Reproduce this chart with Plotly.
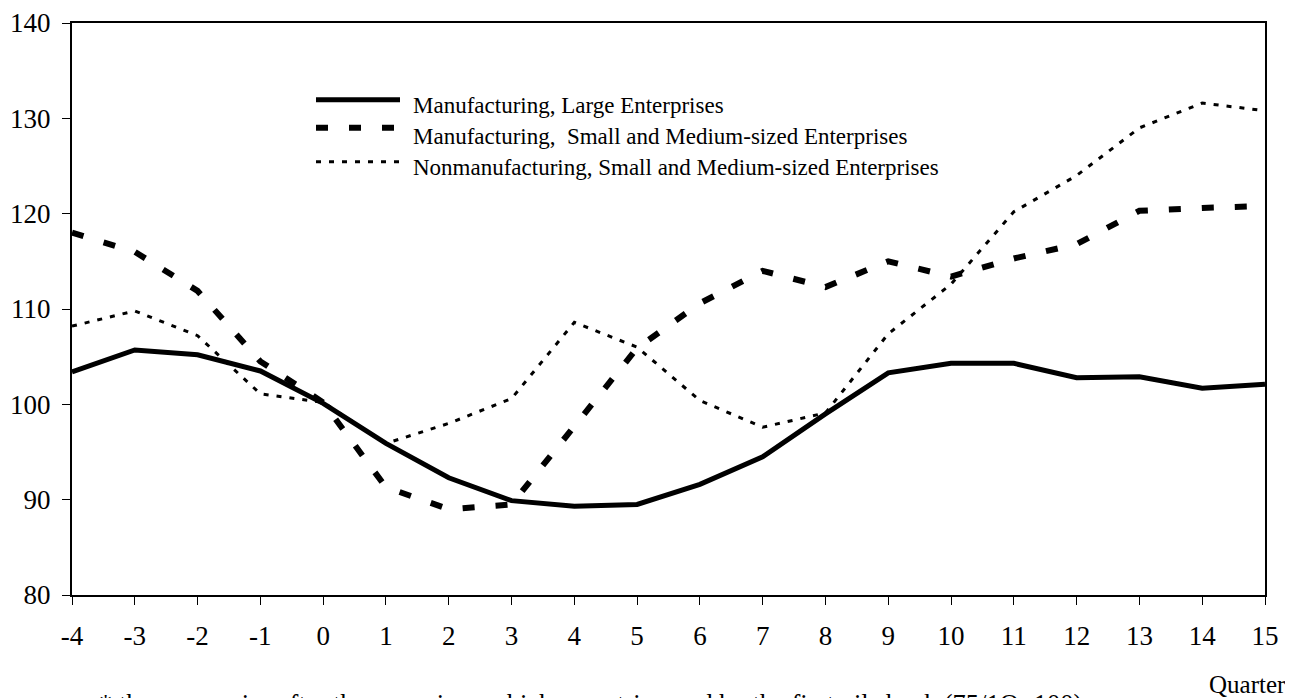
import plotly.graph_objects as go

quarters = list(range(-4, 16))

large_mfg = [103.4, 105.7, 105.2, 103.5, 100.1, 95.9, 92.3, 89.9, 89.3, 89.5,
             91.6, 94.5, 99.0, 103.3, 104.3, 104.3, 102.8, 102.9, 101.7, 102.1]
sme_mfg = [118.0, 116.0, 111.9, 104.5, 100.2, 91.3, 89.0, 89.5, 97.7, 105.9,
           110.6, 114.0, 112.3, 115.0, 113.4, 115.3, 116.8, 120.3, 120.6, 120.8]
sme_nonmfg = [108.2, 109.8, 107.2, 101.1, 100.2, 95.9, 98.0, 100.6, 108.6, 106.0,
              100.4, 97.6, 99.1, 107.4, 112.6, 120.2, 124.0, 129.0, 131.6, 130.8]

names = ["Manufacturing, Large Enterprises",
         "Manufacturing,  Small and Medium-sized Enterprises",
         "Nonmanufacturing, Small and Medium-sized Enterprises"]

y_ticks = [80, 90, 100, 110, 120, 130, 140]
footnote = "* the economies after the recessions which were triggered by the first oil shock (75/1Q=100)"
x_title = "Quarter"

FONT = "Liberation Serif, Times New Roman, serif"

W, H = 1293, 698
ML, MR, MT, MB = 64, 36, 15.3, 110.5
PW, PH = W - ML - MR, H - MT - MB
OFF = 8  # page body margin


def px(page_x):
    return (page_x - OFF - ML) / PW


def py(page_y):
    return 1 - (page_y - OFF - MT) / PH


styles = [dict(color="black", width=5),
          dict(color="black", width=6, dash="12px,21px"),
          dict(color="black", width=3, dash="5px,8px")]
series = [large_mfg, sme_mfg, sme_nonmfg]

fig = go.Figure()
for nm, ys, st in zip(names, series, styles):
    fig.add_trace(go.Scatter(x=quarters, y=ys, mode="lines", name=nm, line=st,
                             showlegend=False))

# manual legend (keys + labels), positioned in paper coordinates
key_rows = [100, 128, 162]
text_rows = [106, 137, 168]
shapes = []
annotations = []
for nm, st, ky, ty in zip(names, styles, key_rows, text_rows):
    shapes.append(dict(type="line", xref="paper", yref="paper",
                       x0=px(316), x1=px(400), y0=py(ky), y1=py(ky), line=st))
    annotations.append(dict(text=nm, xref="paper", yref="paper", x=px(411), y=py(ty),
                            xanchor="left", yanchor="middle", showarrow=False,
                            font=dict(family=FONT, size=23, color="black")))

annotations.append(dict(text=x_title, xref="paper", yref="paper", x=px(1288 + OFF - 8),
                        y=py(669.5), xanchor="right", yanchor="top", showarrow=False,
                        font=dict(family=FONT, size=25, color="black")))
annotations.append(dict(text=footnote, xref="paper", yref="paper", x=px(97),
                        y=py(688), xanchor="left", yanchor="top", showarrow=False,
                        font=dict(family=FONT, size=26.5, color="black")))

fig.update_layout(
    width=W, height=H,
    margin=dict(l=ML, r=MR, t=MT, b=MB, pad=0),
    paper_bgcolor="white", plot_bgcolor="white",
    font=dict(family=FONT, color="black", size=23),
    showlegend=False,
    shapes=shapes,
    annotations=annotations,
    xaxis=dict(range=[-4, 15], tickmode="array", tickvals=quarters,
               ticktext=[str(q) for q in quarters], automargin=False,
               showgrid=False, zeroline=False, showline=True, linecolor="black",
               linewidth=2, mirror=True, ticks="outside", ticklen=8, tickwidth=1,
               tickcolor="black", tickfont=dict(family=FONT, size=27),
               ticklabelstandoff=8, ticklabeloverflow="allow"),
    yaxis=dict(range=[80, 140], tickmode="array", tickvals=y_ticks, automargin=False,
               showgrid=False, zeroline=False, showline=True, linecolor="black",
               linewidth=2, mirror=True, ticks="outside", ticklen=8, tickwidth=1,
               tickcolor="black", tickfont=dict(family=FONT, size=27),
               ticklabelstandoff=6, ticklabeloverflow="allow"),
)

fig.write_html("out.html")
